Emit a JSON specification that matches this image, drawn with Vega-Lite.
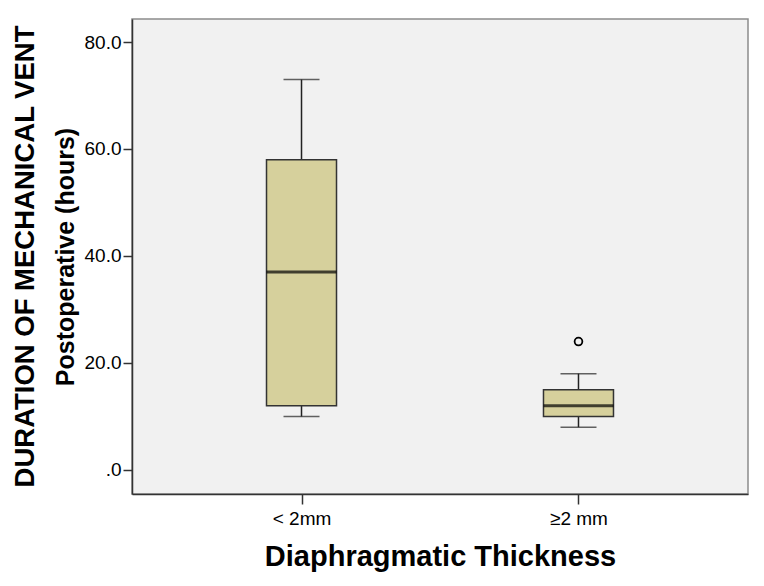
{
  "$schema": "https://vega.github.io/schema/vega-lite/v6.json",
  "width": 616,
  "height": 475,
  "autosize": "none",
  "padding": {"left": 132, "top": 19, "right": 16, "bottom": 92},
  "background": "white",
  "title": {
    "text": "DURATION OF MECHANICAL VENT",
    "orient": "left",
    "anchor": "middle",
    "font": "Liberation Sans",
    "fontSize": 27.5,
    "fontWeight": "bold",
    "color": "#000",
    "offset": 14
  },
  "config": {
    "view": {"fill": "#f1f1f1", "stroke": "#8c8c8c", "strokeWidth": 1.5},
    "axis": {
      "labelFont": "Liberation Sans",
      "titleFont": "Liberation Sans",
      "labelColor": "#000",
      "titleColor": "#000",
      "domainColor": "#333",
      "domainWidth": 1.5,
      "tickColor": "#333",
      "tickWidth": 1.5,
      "grid": false
    }
  },
  "datasets": {
    "boxes": [
      {"group": "< 2mm", "lower": 10, "q1": 12, "median": 37, "q3": 58, "upper": 73},
      {"group": "≥2 mm", "lower": 8, "q1": 10, "median": 12, "q3": 15, "upper": 18}
    ],
    "outliers": [
      {"group": "≥2 mm", "value": 24}
    ]
  },
  "encoding": {
    "x": {
      "field": "group",
      "type": "nominal",
      "sort": ["< 2mm", "≥2 mm"],
      "scale": {"type": "point", "padding": 0.612, "domain": ["< 2mm", "≥2 mm"]},
      "axis": {
        "title": "Diaphragmatic Thickness",
        "titleFontSize": 29,
        "titleFontWeight": "bold",
        "titlePadding": 14,
        "labelFontSize": 19,
        "labelAngle": 0,
        "labelPadding": 5,
        "tickSize": 10
      }
    }
  },
  "layer": [
    {
      "data": {"name": "boxes"},
      "mark": {"type": "rule", "color": "#222", "strokeWidth": 1.5},
      "encoding": {
        "y": {
          "field": "lower",
          "type": "quantitative",
          "scale": {"domain": [-4.5, 84.3], "nice": false, "zero": false},
          "axis": {
            "title": "Postoperative (hours)",
            "titleFontSize": 25,
            "titleFontWeight": "bold",
            "titlePadding": 6,
            "labelFontSize": 19,
            "labelPadding": 2,
            "tickSize": 9,
            "values": [0, 20, 40, 60, 80],
            "labelExpr": "datum.value == 0 ? '.0' : format(datum.value, '.1f')"
          }
        },
        "y2": {"field": "upper"}
      }
    },
    {
      "data": {"name": "boxes"},
      "mark": {"type": "bar", "size": 70, "fill": "#d6d09c", "stroke": "#333", "strokeWidth": 1.5},
      "encoding": {
        "y": {"field": "q1", "type": "quantitative"},
        "y2": {"field": "q3"}
      }
    },
    {
      "data": {"name": "boxes"},
      "mark": {"type": "tick", "size": 36, "thickness": 1.5, "color": "#222"},
      "encoding": {"y": {"field": "lower", "type": "quantitative"}}
    },
    {
      "data": {"name": "boxes"},
      "mark": {"type": "tick", "size": 36, "thickness": 1.5, "color": "#222"},
      "encoding": {"y": {"field": "upper", "type": "quantitative"}}
    },
    {
      "data": {"name": "boxes"},
      "mark": {"type": "tick", "size": 70, "thickness": 3, "color": "#000"},
      "encoding": {"y": {"field": "median", "type": "quantitative"}}
    },
    {
      "data": {"name": "outliers"},
      "mark": {"type": "point", "shape": "circle", "filled": false, "size": 60, "stroke": "#000", "strokeWidth": 1.8, "opacity": 1},
      "encoding": {"y": {"field": "value", "type": "quantitative"}}
    }
  ]
}
